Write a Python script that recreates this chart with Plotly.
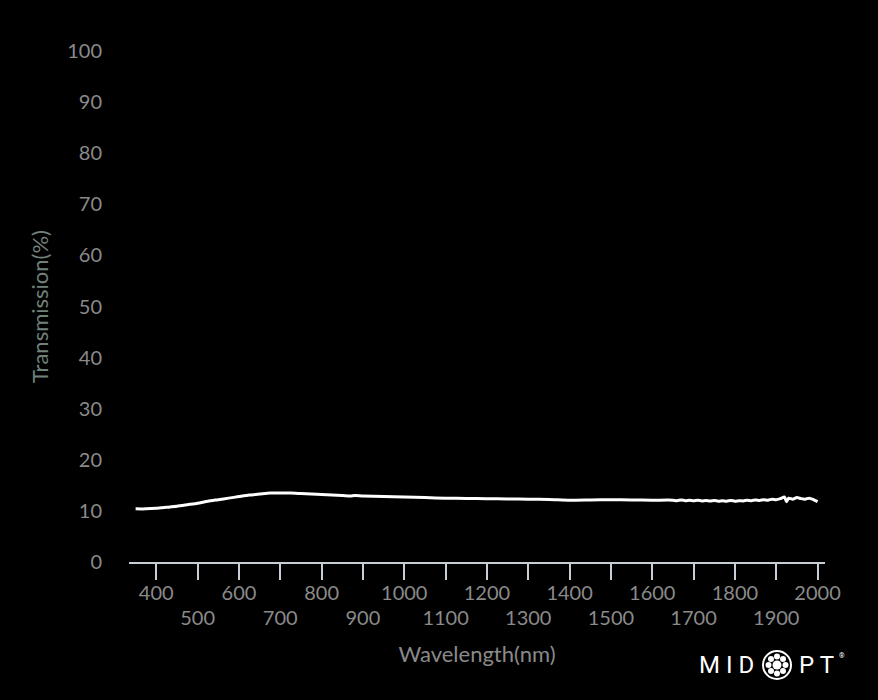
import math
import plotly.graph_objects as go

wavelength = [350, 375, 400, 425, 450, 475, 500, 525, 550, 575, 600, 625, 650, 675,
              700, 725, 750, 775, 800, 850, 870, 880, 900, 950, 1000, 1050, 1100,
              1150, 1200, 1250, 1300, 1350, 1400, 1450, 1500, 1550, 1600, 1650,
              1660, 1670, 1680, 1690, 1700, 1710, 1720, 1730, 1740, 1750, 1760,
              1770, 1780, 1790, 1800, 1810, 1820, 1830, 1840, 1850, 1860, 1870,
              1880, 1890, 1900, 1910, 1920, 1925, 1930, 1940, 1950, 1960, 1970,
              1980, 1990, 2000]
transmission = [10.4, 10.4, 10.5, 10.7, 10.9, 11.2, 11.5, 11.9, 12.2, 12.5, 12.8, 13.1,
                13.3, 13.5, 13.5, 13.5, 13.4, 13.3, 13.2, 13.0, 12.9, 13.0, 12.9, 12.8,
                12.7, 12.6, 12.5, 12.45, 12.4, 12.35, 12.3, 12.25, 12.1, 12.15, 12.2,
                12.15, 12.1, 12.1, 12.0, 12.15, 12.0, 12.1, 12.0, 12.1, 11.95, 12.05,
                11.95, 12.05, 11.9, 12.0, 11.9, 12.05, 11.9, 12.0, 11.95, 12.1, 12.0,
                12.15, 12.05, 12.2, 12.1, 12.3, 12.2, 12.4, 12.7, 11.8, 12.5, 12.3,
                12.6, 12.4, 12.3, 12.5, 12.2, 11.8]

x_ticks_even = [400, 600, 800, 1000, 1200, 1400, 1600, 1800, 2000]
x_ticks_odd = [500, 700, 900, 1100, 1300, 1500, 1700, 1900]
y_ticks = [0, 10, 20, 30, 40, 50, 60, 70, 80, 90, 100]

FONT = "Lato"
LABEL = "#8a8a8a"
TICKSIZE = 20

W, H = 878, 700
L, R, T, B = 129, 53, 51, 138


def px(xp):
    return (xp - L) / (W - L - R)


def py(yp):
    return (H - B - yp) / (H - T - B)


fig = go.Figure()
fig.add_trace(go.Scatter(x=wavelength, y=transmission, mode="lines",
                         line=dict(color="white", width=3, shape="spline", smoothing=0.6),
                         showlegend=False, hoverinfo="skip"))
# invisible trace on second axis to carry the lower row of tick labels
fig.add_trace(go.Scatter(x=[wavelength[0], wavelength[-1]], y=[None, None],
                         xaxis="x2", showlegend=False, hoverinfo="skip"))

all_ticks = sorted(x_ticks_even + x_ticks_odd)
fig.update_layout(
    width=W, height=H,
    paper_bgcolor="black", plot_bgcolor="black",
    margin=dict(l=L, r=R, t=T, b=B),
    font=dict(family=FONT, color=LABEL, size=TICKSIZE),
    xaxis=dict(range=[334, 2018], tickvals=all_ticks,
               ticktext=[str(v) if v in x_ticks_even else "" for v in all_ticks],
               ticks="outside", ticklen=16, tickwidth=2, tickcolor="#c8ced6",
               showline=True, linecolor="#c8ced6", linewidth=2, showgrid=False,
               zeroline=False, ticklabelstandoff=-4,
               tickfont=dict(size=TICKSIZE, color=LABEL),
               title=dict(text="Wavelength(nm)", font=dict(size=22, color=LABEL),
                          standoff=44)),
    xaxis2=dict(overlaying="x", matches="x", side="bottom", anchor="y",
                tickvals=x_ticks_odd, ticktext=[str(v) for v in x_ticks_odd],
                ticks="", showline=False, showgrid=False, zeroline=False,
                ticklabelstandoff=42, tickfont=dict(size=TICKSIZE, color=LABEL)),
    yaxis=dict(range=[0, 100], tickvals=y_ticks, showgrid=False, zeroline=False,
               showline=False, ticks="", ticklabelstandoff=26,
               tickfont=dict(size=TICKSIZE, color=LABEL),
               title=dict(text="Transmission(%)", font=dict(size=22, color="#72827a"),
                          standoff=12)),
)

# MIDOPT logo
logo_font = dict(family="Roboto", size=24, color="#ffffff", weight=400)
fig.add_annotation(xref="paper", yref="paper", x=px(726.5), y=py(665),
                   xanchor="center", yanchor="middle",
                   text="M I D", showarrow=False, font=logo_font)
fig.add_annotation(xref="paper", yref="paper", x=px(816), y=py(665),
                   xanchor="center", yanchor="middle",
                   text="P T", showarrow=False, font=logo_font)
fig.add_annotation(xref="paper", yref="paper", x=px(842), y=py(656),
                   xanchor="center", yanchor="middle",
                   text="®", showarrow=False,
                   font=dict(family="Roboto", size=7, color="white"))
cx, cy, r = 777, 665, 14
fig.add_shape(type="circle", xref="paper", yref="paper",
              x0=px(cx - r), x1=px(cx + r), y0=py(cy + r), y1=py(cy - r),
              line=dict(color="white", width=2))
for k in range(8):
    a = k * math.pi / 4
    dx, dy = 8.5 * math.cos(a), 8.5 * math.sin(a)
    rr = 3.0
    fig.add_shape(type="circle", xref="paper", yref="paper",
                  x0=px(cx + dx - rr), x1=px(cx + dx + rr),
                  y0=py(cy + dy + rr), y1=py(cy + dy - rr),
                  line=dict(width=0), fillcolor="white")
rc = 4.5
fig.add_shape(type="circle", xref="paper", yref="paper",
              x0=px(cx - rc), x1=px(cx + rc), y0=py(cy + rc), y1=py(cy - rc),
              line=dict(width=0), fillcolor="white")

fig.write_html("out.html", config={"displayModeBar": False},
               post_script="document.body.style.margin='0';")
